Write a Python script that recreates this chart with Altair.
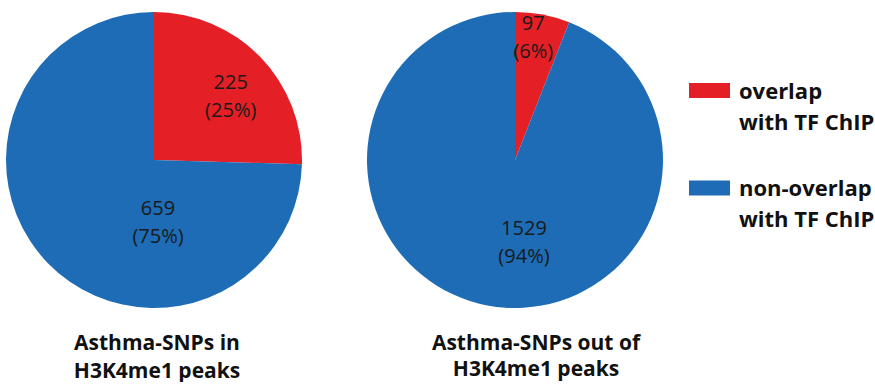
import math
import altair as alt
import pandas as pd

# Asthma SNPs split by overlap with TF ChIP-seq peaks, inside vs. outside H3K4me1 peaks
groups = ["in", "in", "out", "out"]
categories = ["overlap with TF ChIP", "non-overlap with TF ChIP",
              "overlap with TF ChIP", "non-overlap with TF ChIP"]
slice_order = [0, 1, 0, 1]
counts = [225, 659, 97, 1529]

category_names = ["overlap with TF ChIP", "non-overlap with TF ChIP"]
category_colors = ["#E51F26", "#1D6CB5"]

panel_titles = {
    "in": ["Asthma-SNPs in", "H3K4me1 peaks"],
    "out": ["Asthma-SNPs out of", "H3K4me1 peaks"],
}

df = pd.DataFrame({"group": groups, "category": categories,
                   "order": slice_order, "n": counts})
legend_df = pd.DataFrame({"category": category_names})

FONT = "Open Sans"
theta_scale = alt.Scale(domain=[0, 1], range=[0, 2 * math.pi])
color_scale = alt.Scale(domain=category_names, range=category_colors)
color = alt.Color("category:N", scale=color_scale, legend=None)


def pie(group, title_dx, title_offset, title_line_height, label_place):
    base = (
        alt.Chart(df)
        .transform_filter(alt.datum.group == group)
        .transform_joinaggregate(total="sum(n)")
        .transform_window(cum="sum(n)", sort=[alt.SortField("order")])
        .transform_calculate(start="(datum.cum - datum.n) / datum.total")
        .transform_calculate(end="datum.cum / datum.total")
        .transform_calculate(mid="(datum.start + datum.end) / 2")
        .transform_calculate(
            label="format(datum.n, 'd') + '\\n(' + format(100 * datum.n / datum.total, '.0f') + '%)'"
        )
    )
    arcs = base.mark_arc().encode(
        theta=alt.Theta("start:Q", scale=theta_scale, stack=None),
        theta2="end:Q",
        color=color,
    )
    layers = [arcs]
    for cat, (r, dx, dy) in label_place.items():
        layers.append(
            base.transform_filter(alt.datum.category == cat)
            .mark_text(radius=r, dx=dx, dy=dy, lineBreak="\n", font=FONT,
                       fontSize=20, lineHeight=28, color="#1a1a1a",
                       align="center", baseline="middle")
            .encode(theta=alt.Theta("mid:Q", scale=theta_scale, stack=None),
                    text="label:N")
        )
    return alt.layer(*layers).properties(
        width=296,
        height=296,
        title=alt.Title(
            panel_titles[group],
            orient="bottom",
            anchor="middle",
            dx=title_dx,
            offset=title_offset,
            font=FONT,
            fontSize=21,
            fontWeight="bold",
            lineHeight=title_line_height,
            baseline="top",
            color="#111111",
        ),
    )


left = pie("in", 3, 25, 28, {
    "overlap with TF ChIP": (100, 5, -7),
    "non-overlap with TF ChIP": (0, 4, 49),
})
right = pie("out", 21, 25, 26, {
    "overlap with TF ChIP": (125, -5, -13),
    "non-overlap with TF ChIP": (70, 22, 0),
})

# Legend panel: colour swatches with two-line labels
legend_y = alt.Y("category:N", scale=alt.Scale(type="point", domain=category_names,
                                               range=[78.5, 176], padding=0),
                 axis=None)
legend_base = alt.Chart(legend_df).transform_calculate(
    label="replace(datum.category, ' with ', '\\nwith ')"
)
swatches = legend_base.mark_point(
    shape="M-1,-0.366H1V0.366H-1Z", size=1681, filled=True, opacity=1, strokeWidth=0
).encode(x=alt.value(26.5), y=legend_y, color=color)
labels = legend_base.mark_text(
    align="left", baseline="alphabetic", dy=8, lineBreak="\n", lineHeight=31,
    font=FONT, fontSize=22, fontWeight="bold", color="#111111"
).encode(x=alt.value(56), y=legend_y, text="label:N")
legend_panel = alt.layer(swatches, labels).properties(width=190, height=296)

chart = (
    alt.hconcat(alt.hconcat(left, right, spacing=65), legend_panel, spacing=20)
    .properties(padding={"left": 6, "top": 12, "right": 0, "bottom": 0},
                background="white")
    .configure_view(stroke=None)
)

chart.save("out.html", embed_options={"renderer": "svg", "actions": False})
